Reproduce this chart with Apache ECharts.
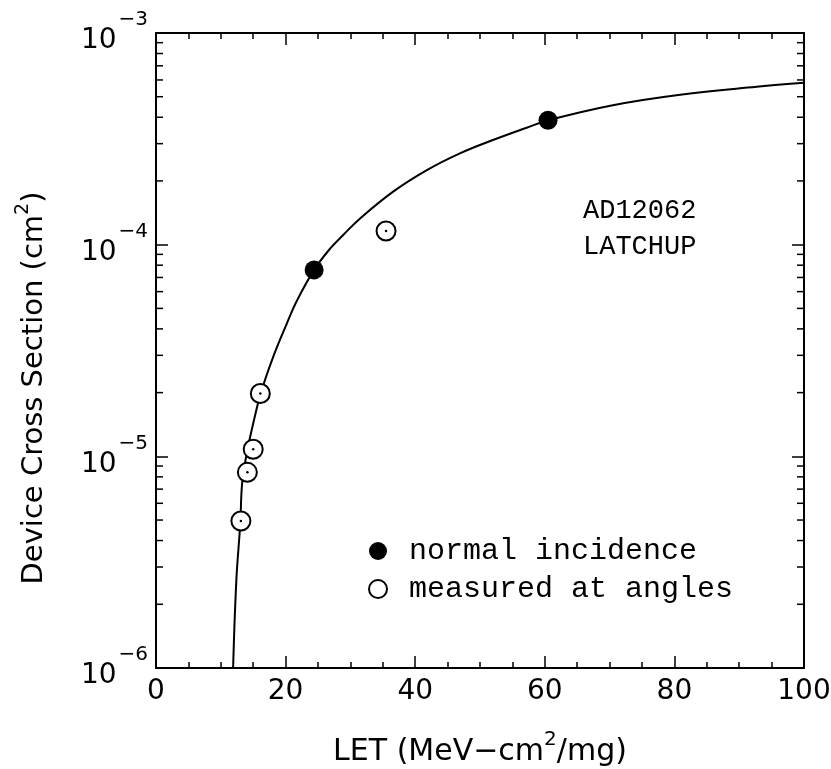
<!DOCTYPE html>
<html>
<head>
<meta charset="utf-8">
<script src="https://cdn.jsdelivr.net/npm/echarts@6/dist/echarts.min.js"></script>
<style>
  html, body { margin: 0; padding: 0; background: #fff; }
  #chart { width: 831px; height: 769px; }
</style>
</head>
<body>
<div id="chart"></div>
<script>
// LET values and cross sections
const normalLET = [24.4, 60.5]
const normalSigma = [7.6e-5, 3.87e-4]

const angleLET = [13.1, 14.1, 15.0, 16.1, 35.5]
const angleSigma = [4.95e-6, 8.4e-6, 1.08e-5, 1.98e-5, 1.16e-4]

// fitted curve, traced point by point
const fitLET = [11.9, 12.4, 13.0, 13.3, 14.0, 15.0, 16.2, 18.1, 20.2, 21.7, 24.4, 26.9, 29.0, 31.5, 36.6, 41.8, 46.9, 52.1, 57.2, 60.5, 70.5, 80.9, 92.7, 100]
const fitSigma = [1.0e-6, 2.6e-6, 4.8e-6, 7.5e-6, 1.03e-5, 1.43e-5, 2.0e-5, 2.96e-5, 4.25e-5, 5.4e-5, 7.6e-5, 9.6e-5, 1.12e-4, 1.33e-4, 1.78e-4, 2.25e-4, 2.7e-4, 3.13e-4, 3.57e-4, 3.87e-4, 4.56e-4, 5.11e-4, 5.57e-4, 5.82e-4]

// minor log ticks (2..9 per decade)
const yMinorTicks = []
for (const d of [1e-6, 1e-5, 1e-4]) {
  for (let m = 2; m <= 9; m++) yMinorTicks.push(m * d)
}

const pairs = (xs, ys) => xs.map((x, i) => [x, ys[i]])

const sans = "'DejaVu Sans', 'Liberation Sans', sans-serif"
const mono = "'Liberation Mono', 'Courier New', monospace"

const axisLine = { show: true, onZero: false, lineStyle: { color: '#000', width: 2 } }
const tickStyle = { color: '#000', width: 1.5 }

const xCommon = {
  type: 'value',
  min: 0,
  max: 100,
  interval: 20,
  splitLine: { show: false },
  axisLine,
  axisTick: { show: true, inside: true, length: 12, lineStyle: tickStyle },
  minorTick: { show: true, splitNumber: 4, length: 6, lineStyle: tickStyle }
}

const yCommon = {
  type: 'log',
  logBase: 10,
  min: 1e-6,
  max: 1e-3,
  splitLine: { show: false },
  axisLine,
  axisTick: { show: true, inside: true, length: 12, lineStyle: tickStyle }
}

const myChart = echarts.init(document.getElementById('chart'))
myChart.setOption({
  animation: false,
  backgroundColor: '#fff',
  grid: { left: 156, right: 27, top: 33, bottom: 101, outerBoundsMode: 'none', containLabel: false },
  xAxis: [
    {
      ...xCommon,
      position: 'bottom',
      name: 'LET (MeV−cm{s|2}/mg)',
      nameLocation: 'middle',
      nameGap: 62,
      nameTextStyle: {
        color: '#000',
        fontFamily: sans,
        fontSize: 30,
        rich: {
          s: { fontFamily: sans, fontSize: 20, color: '#000', padding: [0, 0, 24, 0] }
        }
      },
      axisLabel: { color: '#000', fontFamily: sans, fontSize: 28, margin: 10 }
    },
    { ...xCommon, position: 'top', axisLabel: { show: false } }
  ],
  yAxis: [
    {
      ...yCommon,
      position: 'left',
      axisLabel: {
        margin: 8,
        formatter: v => '{b|10}{e|−' + Math.round(-Math.log10(v)) + '}',
        rich: {
          b: { fontFamily: sans, fontSize: 28, color: '#000', padding: [16, 0, 0, 0] },
          e: { fontFamily: sans, fontSize: 20, color: '#000', padding: [0, 0, 26, 2] }
        }
      }
    },
    { ...yCommon, position: 'right', axisLabel: { show: false } }
  ],
  legend: {
    orient: 'vertical',
    left: 363,
    top: 531,
    itemWidth: 18,
    itemHeight: 18,
    itemGap: 8,
    icon: 'circle',
    textStyle: { color: '#000', fontFamily: mono, fontSize: 30, padding: [0, 0, 0, 17] },
    data: ['normal incidence', 'measured at angles']
  },
  graphic: [
    {
      type: 'text',
      left: 583,
      top: 193,
      style: {
        text: 'AD12062\nLATCHUP',
        fontFamily: mono,
        fontSize: 27,
        lineHeight: 36,
        fill: '#000',
        align: 'center'
      }
    },
    {
      type: 'text',
      x: 34,
      y: 388,
      rotation: Math.PI / 2,
      style: {
        text: 'Device Cross Section (cm{s|2})',
        fontFamily: sans,
        fontSize: 29,
        fill: '#000',
        align: 'center',
        verticalAlign: 'middle',
        rich: {
          s: { fontFamily: sans, fontSize: 19, fill: '#000', padding: [0, 0, 22, 0] }
        }
      }
    }
  ],
  series: [
    {
      name: 'fit',
      type: 'line',
      data: pairs(fitLET, fitSigma),
      smooth: 0.4,
      showSymbol: false,
      lineStyle: { color: '#000', width: 2 },
      z: 2
    },
    {
      name: 'normal incidence',
      type: 'scatter',
      data: pairs(normalLET, normalSigma),
      symbol: 'circle',
      symbolSize: 19,
      itemStyle: { color: '#000', opacity: 1 },
      z: 4
    },
    {
      name: 'measured at angles',
      type: 'scatter',
      data: pairs(angleLET, angleSigma),
      symbol: 'circle',
      symbolSize: 19,
      itemStyle: { color: '#fff', borderColor: '#000', borderWidth: 2, opacity: 1 },
      z: 4
    },
    {
      name: 'centre dots',
      type: 'scatter',
      data: pairs(angleLET, angleSigma),
      symbolSize: 2.5,
      itemStyle: { color: '#000', opacity: 1 },
      z: 5
    },
    {
      name: 'minor y ticks',
      type: 'custom',
      silent: true,
      data: yMinorTicks.map(v => [v]),
      renderItem: (params, api) => {
        const v = api.value(0)
        const l = api.coord([0, v])
        const r = api.coord([100, v])
        const style = { stroke: '#000', lineWidth: 1.5 }
        return {
          type: 'group',
          children: [
            { type: 'line', shape: { x1: l[0], y1: l[1], x2: l[0] + 7, y2: l[1] }, style },
            { type: 'line', shape: { x1: r[0], y1: r[1], x2: r[0] - 7, y2: r[1] }, style }
          ]
        }
      },
      encode: { y: 0 },
      z: 3
    }
  ]
})
</script>
</body>
</html>
